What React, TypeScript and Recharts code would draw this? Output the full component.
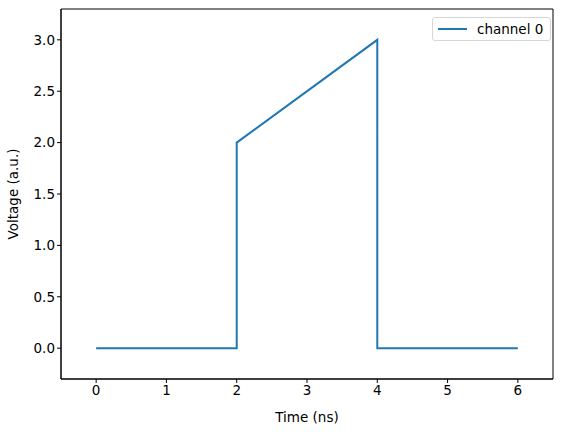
import {
  LineChart,
  Line,
  XAxis,
  YAxis,
  ReferenceArea,
} from 'recharts';

// pulse waveform, one channel
const timeNs = [0, 2, 2, 4, 4, 6];
const voltage = [0, 0, 2, 3, 0, 0];
const xTicks = [0, 1, 2, 3, 4, 5, 6];
const yTicks = [0, 0.5, 1, 1.5, 2, 2.5, 3];
const seriesName = 'channel 0';

const data = timeNs.map((t, i) => ({ t, v: voltage[i] }));

const font = 'DejaVu Sans, sans-serif';
const blue = '#1f77b4';
const fs = 13.5;

// matplotlib-like legend box, placed over the chart
const LegendBox = () => (
  <div
    style={{
      position: 'absolute',
      left: 432,
      top: 17,
      width: 119,
      height: 24,
      boxSizing: 'border-box',
      border: '1px solid #d6d6d6',
      borderRadius: 3,
      background: '#fff',
      display: 'flex',
      alignItems: 'center',
      fontFamily: font,
      fontSize: fs,
      color: '#000',
      paddingLeft: 5,
    }}
  >
    <span style={{ display: 'inline-block', width: 29, height: 2, background: blue, marginRight: 10 }} />
    <span>{seriesName}</span>
  </div>
);

const App = () => {
  return (
    <div style={{ position: 'absolute', left: 0, top: 0, width: 567, height: 432, background: '#fff' }}>
      <LineChart width={567} height={432} data={data} margin={{ top: 9, right: 14, left: 0, bottom: 0 }}>
        <XAxis
          dataKey="t"
          type="number"
          domain={[-0.5, 6.5]}
          ticks={xTicks}
          allowDataOverflow
          height={53}
          tickSize={4}
          stroke="#000"
          tick={{ fill: '#000', fontSize: fs, fontFamily: font }}
          label={{ value: 'Time (ns)', position: 'insideBottom', offset: 10, fill: '#000', fontSize: fs, fontFamily: font }}
        />
        <YAxis
          type="number"
          domain={[-0.3, 3.3]}
          ticks={yTicks}
          allowDataOverflow
          width={61}
          tickSize={4}
          stroke="#000"
          tickFormatter={(v: number) => v.toFixed(1)}
          tick={{ fill: '#000', fontSize: fs, fontFamily: font }}
          label={{ value: 'Voltage (a.u.)', angle: -90, position: 'insideLeft', offset: 13, style: { textAnchor: 'middle' }, fill: '#000', fontSize: fs, fontFamily: font }}
        />
        <ReferenceArea x1={-0.5} x2={6.5} y1={-0.3} y2={3.3} fill="none" stroke="#000" strokeWidth={1} ifOverflow="extendDomain" />
        <Line
          dataKey="v"
          name={seriesName}
          type="linear"
          stroke={blue}
          strokeWidth={2}
          dot={false}
          isAnimationActive={false}
        />
      </LineChart>
      <LegendBox />
    </div>
  );
};

export default App;
